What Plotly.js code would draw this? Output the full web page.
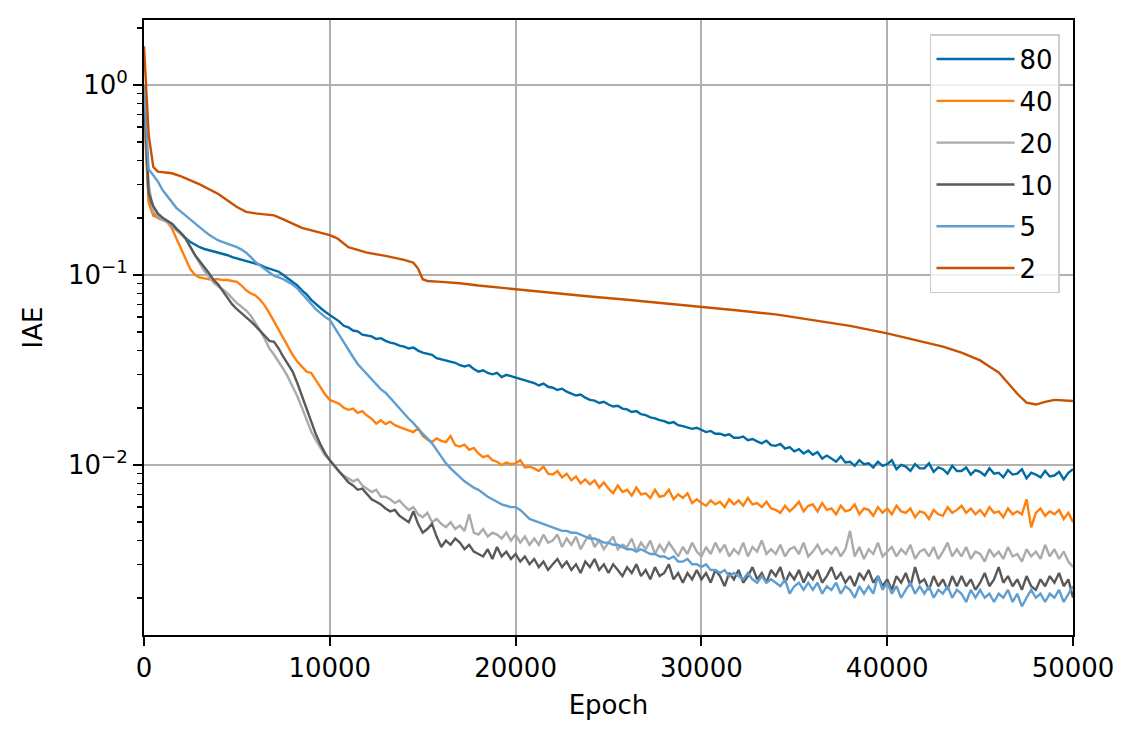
<!DOCTYPE html>
<html>
<head>
<meta charset="utf-8">
<script src="https://cdn.plot.ly/plotly-3.0.1.min.js"></script>
<style>
  html, body { margin: 0; padding: 0; background: #fff; }
  #chart { width: 1139px; height: 741px; }
</style>
</head>
<body>
<div id="chart"></div>
<script>
'use strict';

// sampling grid of the logged runs (every 250 epochs)
const epochs = [];
for (let e = 0; e <= 50000; e += 250) epochs.push(e);

const iae80 = [
  0.9, 0.25, 0.21, 0.2,
  0.195, 0.19, 0.186, 0.175,
  0.165, 0.156, 0.149, 0.144,
  0.140, 0.137, 0.135, 0.132,
  0.130, 0.128, 0.127, 0.124,
  0.122, 0.121, 0.118, 0.117,
  0.115, 0.113, 0.110, 0.108,
  0.106, 0.104, 0.100, 0.096,
  0.092, 0.088, 0.083, 0.079,
  0.074, 0.070, 0.067, 0.064,
  0.0616, 0.059, 0.057, 0.054,
  0.053, 0.051, 0.0505, 0.0485,
  0.048, 0.0475, 0.046, 0.0465,
  0.045, 0.044, 0.0435, 0.0425,
  0.042, 0.041, 0.0415, 0.040,
  0.039, 0.0385, 0.038, 0.0365,
  0.036, 0.0355, 0.035, 0.0345,
  0.0335, 0.033, 0.0335, 0.032,
  0.031, 0.0315, 0.0305, 0.030,
  0.0305, 0.029, 0.0298, 0.0293,
  0.029, 0.0285, 0.028, 0.0275,
  0.027, 0.0262, 0.0268, 0.0258,
  0.0255, 0.0248, 0.0252, 0.0243,
  0.0238, 0.0232, 0.0235, 0.0226,
  0.022, 0.0218, 0.0212, 0.0215,
  0.0208, 0.0203, 0.0205, 0.0198,
  0.0196, 0.019, 0.0192, 0.0185,
  0.0183, 0.0178, 0.0176, 0.0172,
  0.017, 0.0166, 0.0168, 0.0162,
  0.016, 0.0158, 0.0155, 0.0157,
  0.0153, 0.0149, 0.0151, 0.0146,
  0.0146, 0.0143, 0.0145, 0.0139,
  0.0139, 0.0141, 0.0135, 0.0137,
  0.0133, 0.013, 0.0134, 0.0127,
  0.0126, 0.0129, 0.0122, 0.0124,
  0.0118, 0.0121, 0.0115, 0.0119,
  0.0113, 0.0117, 0.0108, 0.0112,
  0.0108, 0.0104, 0.0111, 0.0103,
  0.0104, 0.0099, 0.0106, 0.0101,
  0.0102, 0.0097, 0.0104, 0.0099,
  0.0101, 0.0106, 0.0095, 0.0100,
  0.0098, 0.0093, 0.0101, 0.0096,
  0.0096, 0.0102, 0.0092, 0.0097,
  0.0095, 0.0090, 0.0099, 0.0093,
  0.0093, 0.0097, 0.0089, 0.0094,
  0.0092, 0.0088, 0.0096, 0.0090,
  0.0091, 0.0086, 0.0094, 0.0089,
  0.0090, 0.0095, 0.0085, 0.0091,
  0.0089, 0.0086, 0.0093, 0.0087,
  0.0088, 0.0092, 0.0084, 0.0091,
  0.0095
];

const iae40 = [
  0.7, 0.24, 0.205, 0.2,
  0.197, 0.19, 0.176, 0.155,
  0.137, 0.12, 0.107, 0.1,
  0.097, 0.096, 0.095, 0.095,
  0.095, 0.094, 0.094, 0.093,
  0.092, 0.088, 0.083, 0.080,
  0.078, 0.074, 0.069, 0.063,
  0.057, 0.051, 0.046, 0.042,
  0.038, 0.035, 0.033, 0.031,
  0.0305, 0.028, 0.0255, 0.0235,
  0.022, 0.0215, 0.021, 0.020,
  0.0195, 0.0198, 0.0188, 0.0192,
  0.0182, 0.0175, 0.0165, 0.0172,
  0.0164, 0.0169, 0.0162, 0.0158,
  0.0155, 0.0152, 0.0149, 0.0156,
  0.0142, 0.0136, 0.0132, 0.0138,
  0.0134, 0.0132, 0.0142, 0.0127,
  0.0125, 0.0128, 0.0120, 0.0123,
  0.0115, 0.0110, 0.0112, 0.0106,
  0.0104, 0.0100, 0.0103, 0.0101,
  0.0102, 0.0106, 0.0097, 0.0098,
  0.0096, 0.0093, 0.0098, 0.0090,
  0.0089, 0.0093, 0.0086, 0.0090,
  0.0083, 0.0087, 0.0080, 0.0084,
  0.0079, 0.0083, 0.0076, 0.0081,
  0.0075, 0.0071, 0.0078, 0.0072,
  0.0074, 0.0069, 0.0076, 0.0070,
  0.0071, 0.0067, 0.0074, 0.0068,
  0.0069, 0.0074, 0.0066, 0.0070,
  0.0067, 0.0071, 0.0063, 0.0066,
  0.0063, 0.0061, 0.0065, 0.0062,
  0.0064, 0.0060, 0.0066, 0.0062,
  0.0065, 0.0061, 0.0067, 0.0062,
  0.0063, 0.0060, 0.0064, 0.0059,
  0.0058, 0.0056, 0.0061, 0.0057,
  0.0060, 0.0064, 0.0057, 0.0061,
  0.0062, 0.0057, 0.0063, 0.0058,
  0.0059, 0.0055, 0.0061, 0.0057,
  0.0058, 0.0062, 0.0055, 0.0059,
  0.0058, 0.0054, 0.0060, 0.0056,
  0.0059, 0.0055, 0.0061, 0.0057,
  0.0056, 0.0059, 0.0053, 0.0057,
  0.0056, 0.0052, 0.0058, 0.0055,
  0.0054, 0.0060, 0.0056, 0.0058,
  0.0061, 0.0056, 0.0059, 0.0055,
  0.0058, 0.0054, 0.0060, 0.0056,
  0.0057, 0.0053, 0.0059, 0.0055,
  0.0057, 0.0055, 0.0066, 0.0047,
  0.0056, 0.0059, 0.0054, 0.0057,
  0.0055, 0.0058, 0.0052, 0.0056,
  0.0050
];

const iae20 = [
  0.8, 0.3, 0.215, 0.205,
  0.195, 0.19, 0.18, 0.17,
  0.163, 0.155, 0.14, 0.125,
  0.115, 0.105, 0.098, 0.091,
  0.087, 0.084, 0.080, 0.075,
  0.071, 0.068, 0.065, 0.061,
  0.056, 0.051, 0.046, 0.041,
  0.038, 0.035, 0.032, 0.029,
  0.026, 0.023, 0.020, 0.0175,
  0.015, 0.0135, 0.0122, 0.0112,
  0.0106, 0.0098, 0.0092, 0.0088,
  0.0085, 0.0082, 0.0084, 0.0078,
  0.0075, 0.0072, 0.0074, 0.0068,
  0.0068, 0.0066, 0.0063, 0.0065,
  0.0061, 0.0058, 0.0060, 0.0055,
  0.0053, 0.0056, 0.0050, 0.0052,
  0.0049, 0.0047, 0.0050, 0.0046,
  0.0048, 0.0045, 0.0055, 0.0044,
  0.0043, 0.0046, 0.0042, 0.0044,
  0.0043, 0.0041, 0.0044, 0.0040,
  0.0043, 0.0039, 0.0042, 0.0038,
  0.0041, 0.0038, 0.0043, 0.0039,
  0.0040, 0.0043, 0.0037, 0.0041,
  0.0038, 0.0042, 0.0036, 0.0040,
  0.0043, 0.0037, 0.0040, 0.0036,
  0.0039, 0.0042, 0.0036, 0.0038,
  0.0037, 0.0041, 0.0035, 0.0039,
  0.0036, 0.0040, 0.0034, 0.0038,
  0.0035, 0.0039, 0.0036, 0.0033,
  0.0037, 0.0034, 0.0039, 0.0035,
  0.0033, 0.0037, 0.0034, 0.0039,
  0.0035, 0.0038, 0.0033, 0.0036,
  0.0034, 0.0039, 0.0033, 0.0037,
  0.0035, 0.0040, 0.0034, 0.0036,
  0.0034, 0.0038, 0.0033, 0.0036,
  0.0037, 0.0034, 0.0039, 0.0033,
  0.0035, 0.0038, 0.0034, 0.0036,
  0.0034, 0.0037, 0.0033, 0.0036,
  0.0045, 0.0033, 0.0037, 0.0032,
  0.0036, 0.0034, 0.0039, 0.0033,
  0.0035, 0.0037, 0.0033, 0.0036,
  0.0034, 0.0038, 0.0032, 0.0035,
  0.0036, 0.0033, 0.0037, 0.0032,
  0.0035, 0.0039, 0.0033, 0.0036,
  0.0033, 0.0037, 0.0032, 0.0035,
  0.0034, 0.0031, 0.0036, 0.0033,
  0.0035, 0.0032, 0.0037, 0.0033,
  0.0034, 0.0031, 0.0036, 0.0033,
  0.0035, 0.0032, 0.0038, 0.0033,
  0.0036, 0.0032, 0.0035, 0.0031,
  0.0029
];

const iae10 = [
  0.9, 0.27, 0.23, 0.21,
  0.2, 0.193, 0.186, 0.175,
  0.166, 0.155, 0.14, 0.127,
  0.118, 0.110, 0.102, 0.094,
  0.089, 0.082, 0.076, 0.070,
  0.066, 0.063, 0.060, 0.057,
  0.054, 0.051, 0.048, 0.045,
  0.0445, 0.041, 0.037, 0.034,
  0.031, 0.027, 0.023, 0.020,
  0.017, 0.0145, 0.0128, 0.0115,
  0.0106, 0.0099, 0.0093, 0.0087,
  0.0081, 0.0078, 0.0074, 0.0075,
  0.0070, 0.0066, 0.0064, 0.0062,
  0.0059, 0.0057, 0.0058, 0.0054,
  0.0052, 0.0050, 0.0057, 0.0049,
  0.0044, 0.0046, 0.0049, 0.0042,
  0.0037, 0.0040, 0.0038, 0.0041,
  0.0039, 0.0036, 0.0038, 0.0035,
  0.0034, 0.0033, 0.0036, 0.0032,
  0.0037, 0.0033, 0.0035, 0.0032,
  0.0034, 0.0031, 0.0033, 0.0030,
  0.0032, 0.0029, 0.0031, 0.0028,
  0.0030, 0.0032, 0.0029, 0.0031,
  0.0028, 0.0030, 0.0027, 0.0031,
  0.0029, 0.0032, 0.0028, 0.0030,
  0.0027, 0.0030, 0.0028, 0.0026,
  0.0029, 0.0027, 0.0030, 0.0026,
  0.0028, 0.0025, 0.0029, 0.0026,
  0.0027, 0.0030, 0.0025, 0.0027,
  0.0024, 0.0027, 0.0025, 0.0028,
  0.0025, 0.0027, 0.0024, 0.0028,
  0.0026, 0.0023, 0.0027, 0.0025,
  0.0028, 0.0024, 0.0026, 0.0029,
  0.0025, 0.0027, 0.0024, 0.0028,
  0.0026, 0.0029, 0.0024, 0.0027,
  0.0025, 0.0028, 0.0024, 0.0027,
  0.0025, 0.0028, 0.0024, 0.0026,
  0.0029, 0.0025, 0.0027, 0.0024,
  0.0026, 0.0023, 0.0027, 0.0025,
  0.0028, 0.0024, 0.0026, 0.0023,
  0.0025, 0.0022, 0.0026, 0.0024,
  0.0027, 0.0023, 0.0029, 0.0024,
  0.0025, 0.0022, 0.0026, 0.0023,
  0.0025, 0.0022, 0.0026, 0.0023,
  0.0026, 0.0023, 0.0025, 0.0022,
  0.0024, 0.0027, 0.0023, 0.0025,
  0.0029, 0.0024, 0.0026, 0.0023,
  0.0025, 0.0022, 0.0026, 0.0023,
  0.0022, 0.0025, 0.0023, 0.0026,
  0.0024, 0.0027, 0.0023, 0.0025,
  0.0020
];

const iae5 = [
  1.0, 0.36, 0.335, 0.31,
  0.28, 0.26, 0.24, 0.225,
  0.215, 0.205, 0.195, 0.185,
  0.178, 0.17, 0.163, 0.157,
  0.152, 0.149, 0.146, 0.143,
  0.14, 0.136, 0.131, 0.124,
  0.117, 0.112, 0.107, 0.103,
  0.099, 0.097, 0.095, 0.092,
  0.089, 0.085, 0.080, 0.075,
  0.070, 0.066, 0.063, 0.060,
  0.058, 0.053, 0.048, 0.044,
  0.040, 0.037, 0.034, 0.032,
  0.030, 0.028, 0.0265, 0.025,
  0.024, 0.0225, 0.021, 0.0198,
  0.0186, 0.0175, 0.0166, 0.0155,
  0.0146, 0.0138, 0.0130, 0.0120,
  0.011, 0.0102, 0.0096, 0.0091,
  0.0086, 0.0082, 0.0079, 0.0076,
  0.0074, 0.0071, 0.0068, 0.0066,
  0.0064, 0.0062, 0.0061, 0.0060,
  0.0060, 0.0058, 0.0055, 0.0052,
  0.0051, 0.0050, 0.0049, 0.0048,
  0.0047, 0.0046, 0.0045, 0.0045,
  0.0044, 0.0044, 0.0043, 0.0042,
  0.0041, 0.0041, 0.0040, 0.0039,
  0.0039, 0.0038, 0.0038, 0.0037,
  0.0036, 0.0036, 0.0035, 0.0036,
  0.0035, 0.0034, 0.0034, 0.0033,
  0.0033, 0.0032, 0.0033, 0.0031,
  0.0031, 0.0032, 0.0030, 0.0030,
  0.0029, 0.0030, 0.0028, 0.0028,
  0.0027, 0.0028, 0.0026, 0.0027,
  0.0026, 0.0025, 0.0027, 0.0025,
  0.0024, 0.0026, 0.0024, 0.0025,
  0.0024, 0.0023, 0.0025, 0.0021,
  0.0023, 0.0024, 0.0022, 0.0024,
  0.0022, 0.0024, 0.0021, 0.0023,
  0.0022, 0.0024, 0.0021, 0.0023,
  0.0022, 0.0020, 0.0023, 0.0021,
  0.0023, 0.0021, 0.0026, 0.0022,
  0.0024, 0.0021, 0.0023, 0.0020,
  0.0022, 0.0024, 0.0021, 0.0023,
  0.0021, 0.0023, 0.0020, 0.0022,
  0.0021, 0.0023, 0.0020, 0.0022,
  0.0021, 0.0019, 0.0022, 0.0020,
  0.0022, 0.0020, 0.0021, 0.0019,
  0.0021, 0.0020, 0.0022, 0.0019,
  0.0021, 0.0018, 0.0020, 0.0022,
  0.0020, 0.0021, 0.0019, 0.0021,
  0.0020, 0.0022, 0.0019, 0.0021,
  0.0023
];

const epochs2 = [0, 100, 250, 500, 750, 1500, 2000, 3000, 4000, 5000, 5500, 6000, 7000, 7500,
  8500, 10000, 10400, 11000, 12000, 13000, 14000, 14500, 14750, 15000, 15250, 16000, 17000,
  18000, 20000, 22000, 24000, 26000, 28000, 30000, 32000, 34000, 36000, 38000, 40000, 42000,
  43000, 44000, 45000, 45500, 46000, 46500, 47000, 47500, 48000, 48500, 49000, 50000];
const iae2 = [1.6, 1.0, 0.55, 0.37, 0.35, 0.343, 0.33, 0.30, 0.267, 0.228, 0.215, 0.211, 0.206, 0.196,
  0.177, 0.162, 0.156, 0.140, 0.131, 0.126, 0.12, 0.116, 0.108, 0.095, 0.093, 0.092, 0.0905,
  0.088, 0.084, 0.080, 0.077, 0.074, 0.071, 0.068, 0.065, 0.062, 0.058, 0.054, 0.0493, 0.0445,
  0.042, 0.039, 0.0355, 0.033, 0.0307, 0.027, 0.0237, 0.0213, 0.0208, 0.0215, 0.022, 0.0217];

const labels = ['80', '40', '20', '10', '5', '2'];
const colors = ['#006BA4', '#FF800E', '#ABABAB', '#595959', '#5F9ED1', '#C85200'];

const yTickVals = [0.01, 0.1, 1];
const yTickText = ['10<sup>−2</sup>', '10<sup>−1</sup>', '10<sup>0</sup>'];
const yMinorVals = [];
[0.001, 0.01, 0.1, 1].forEach(d => { for (let k = 2; k <= 9; k++) yMinorVals.push(k * d); });

function makeTrace(x, y, i) {
    return {
        x: x,
        y: y,
        type: 'scatter',
        mode: 'lines',
        name: labels[i],
        legendgroup: 'g' + i,
        line: { color: colors[i], width: 2.4 },
        hoverinfo: 'skip'
    };
}

const traces = [
    makeTrace(epochs, iae80, 0),
    makeTrace(epochs, iae40, 1),
    makeTrace(epochs, iae20, 2),
    makeTrace(epochs, iae10, 3),
    makeTrace(epochs, iae5, 4),
    makeTrace(epochs2, iae2, 5)
];

const font = { family: 'DejaVu Sans', size: 26, color: '#000' };

const layout = {
    width: 1139,
    height: 741,
    margin: { l: 144, r: 66, t: 20, b: 106 },
    paper_bgcolor: '#fff',
    plot_bgcolor: '#fff',
    font: font,
    showlegend: true,
    legend: {
        x: 0.986, y: 0.977, xanchor: 'right', yanchor: 'top',
        bgcolor: 'rgba(255,255,255,0.8)',
        bordercolor: '#cccccc', borderwidth: 1.5,
        font: font,
        tracegroupgap: 5,
        itemwidth: 78
    },
    xaxis: {
        range: [0, 50000],
        tickvals: [0, 10000, 20000, 30000, 40000, 50000],
        tickformat: 'd',
        ticks: 'outside', ticklen: 9, tickwidth: 2, tickcolor: '#000',
        showline: true, linecolor: '#000', linewidth: 2, mirror: true,
        showgrid: true, gridcolor: '#b0b0b0', gridwidth: 2,
        zeroline: false,
        title: { text: 'Epoch', font: font, standoff: 14 }
    },
    yaxis: {
        type: 'log',
        range: [-2.895, 0.342],
        tickmode: 'array',
        tickvals: yTickVals,
        ticktext: yTickText,
        ticks: 'outside', ticklen: 9, tickwidth: 2, tickcolor: '#000',
        minor: { tickmode: 'array', tickvals: yMinorVals, ticks: 'outside', ticklen: 5, tickwidth: 1.5, tickcolor: '#000', showgrid: false },
        showline: true, linecolor: '#000', linewidth: 2, mirror: true,
        showgrid: true, gridcolor: '#b0b0b0', gridwidth: 2,
        zeroline: false,
        title: { text: 'IAE', font: font, standoff: 18 }
    }
};

Plotly.newPlot('chart', traces, layout, { staticPlot: true, displayModeBar: false });
</script>
</body>
</html>
